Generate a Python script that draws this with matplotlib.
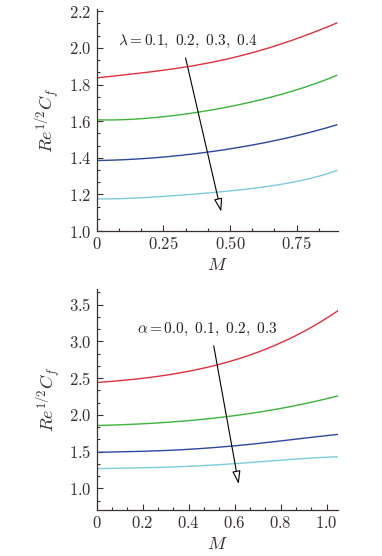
import matplotlib
matplotlib.use("Agg")
import matplotlib.pyplot as plt
import numpy as np
from matplotlib.ticker import MultipleLocator, FixedLocator, FuncFormatter

plt.rcParams['mathtext.fontset'] = 'cm'
plt.rcParams['font.family'] = 'serif'
plt.rcParams['font.serif'] = ['DejaVu Serif']

# ---- data: top panel (lambda) ----
M_top = [0.0, 0.25, 0.37, 0.5, 0.62, 0.75, 0.9]
lam_red = [1.836, 1.878, 1.905, 1.942, 1.99, 2.05, 2.136]
lam_green = [1.607, 1.625, 1.645, 1.68, 1.72, 1.77, 1.85]
lam_blue = [1.385, 1.405, 1.42, 1.45, 1.48, 1.52, 1.58]
lam_cyan = [1.175, 1.19, 1.20, 1.22, 1.24, 1.27, 1.33]
lam_label = r'$\lambda=0.1,\ 0.2,\ 0.3,\ 0.4$'

# ---- data: bottom panel (alpha) ----
M_bot = [0.0, 0.2, 0.4, 0.6, 0.8, 0.95, 1.05]
al_red = [2.44, 2.50, 2.59, 2.75, 2.98, 3.22, 3.42]
al_green = [1.855, 1.88, 1.92, 1.99, 2.09, 2.18, 2.26]
al_blue = [1.49, 1.505, 1.53, 1.58, 1.645, 1.70, 1.735]
al_cyan = [1.268, 1.28, 1.30, 1.335, 1.385, 1.415, 1.43]
al_label = r'$\alpha=0.0,\ 0.1,\ 0.2,\ 0.3$'

xt_top = [0, 0.25, 0.5, 0.75]
xt_top_lbl = ['0', '0.25', '0.50', '0.75']
yt_top = [1.0, 1.2, 1.4, 1.6, 1.8, 2.0, 2.2]
xt_bot = [0, 0.2, 0.4, 0.6, 0.8, 1.0]
xt_bot_lbl = ['0', '0.2', '0.4', '0.6', '0.8', '1.0']
yt_bot = [1.0, 1.5, 2.0, 2.5, 3.0, 3.5]

colors = ['#e0303c', '#3cb43c', '#2a48a4', '#7ccce0']

fig = plt.figure(figsize=(3.82, 5.56), dpi=100)
ax1 = fig.add_axes([0.253, 0.5845, 0.632, 0.3985])
ax2 = fig.add_axes([0.253, 0.0827, 0.632, 0.397])

spine_c = '#3a3030'

def smooth(x, y):
    xs = np.linspace(x[0], x[-1], 200)
    c = np.polyfit(x, y, 4)
    return xs, np.polyval(c, xs)

def style(ax, xt, xtl, yt, xminor, yminor, xlim, ylim):
    ax.set_xlim(*xlim)
    ax.set_ylim(*ylim)
    for s in ['top', 'right']:
        ax.spines[s].set_visible(False)
    for s in ['left', 'bottom']:
        ax.spines[s].set_color(spine_c)
        ax.spines[s].set_linewidth(0.9)
    ax.set_xticks(xt)
    ax.set_xticklabels(['$' + t + '$' for t in xtl])
    ax.set_yticks(yt)
    ax.set_yticklabels(['$%.1f$' % v for v in yt])
    ax.xaxis.set_minor_locator(MultipleLocator(xminor))
    ax.yaxis.set_minor_locator(MultipleLocator(yminor))
    ax.tick_params(which='both', direction='in', colors=spine_c, labelsize=12, width=0.8)
    ax.tick_params(which='major', length=4)
    ax.tick_params(which='minor', length=2.5)
    ax.set_xlabel('$M$', fontsize=13, color=spine_c, labelpad=2)
    ax.set_ylabel('$Re^{1/2}C_f$', fontsize=13, color=spine_c, labelpad=4)

for ys, c in zip([lam_red, lam_green, lam_blue, lam_cyan], colors):
    xs, yy = smooth(M_top, ys)
    ax1.plot(xs, yy, color=c, lw=1.0)
style(ax1, xt_top, xt_top_lbl, yt_top, 0.25 / 3, 0.2 / 3, (0, 0.905), (1.0, 2.21))
ax1.text(0.08, 2.035, lam_label, fontsize=11, color='#222222', va='center')
ax1.annotate('', xy=(0.469, 1.091), xytext=(0.331, 1.96),
             arrowprops=dict(arrowstyle='-|>,head_length=0.8,head_width=0.25',
                             fc='white', ec='black', lw=0.8))

for ys, c in zip([al_red, al_green, al_blue, al_cyan], colors):
    xs, yy = smooth(M_bot, ys)
    ax2.plot(xs, yy, color=c, lw=1.0)
style(ax2, xt_bot, xt_bot_lbl, yt_bot, 0.2 / 3, 0.5 / 3, (0, 1.05), (0.705, 3.71))
ax2.text(0.174, 3.17, al_label, fontsize=11, color='#222222', va='center')
ax2.annotate('', xy=(0.62, 1.02), xytext=(0.507, 2.977),
             arrowprops=dict(arrowstyle='-|>,head_length=0.8,head_width=0.25',
                             fc='white', ec='black', lw=0.8))

fig.savefig('out.png', dpi=100)
